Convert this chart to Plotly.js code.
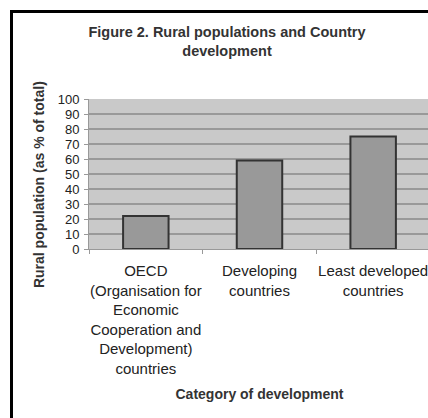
<!DOCTYPE html>
<html>
<head>
<meta charset="utf-8">
<script src="https://cdn.plot.ly/plotly-3.0.1.min.js"></script>
<style>
  html, body { margin: 0; padding: 0; background: #fff; overflow: hidden; width: 428px; height: 418px; }
  #frame { position: absolute; left: 10px; top: 10px; width: 500px; height: 450px; border: 3px solid #000; }
  #chart { width: 500px; height: 450px; }
</style>
</head>
<body>
<div id="frame"><div id="chart"></div></div>
<script>
// Rural population share by development category
const categories = ["OECD", "Developing", "Least developed"];
const tickLabels = [
  "OECD<br>(Organisation for<br>Economic<br>Cooperation and<br>Development)<br>countries",
  "Developing<br>countries",
  "Least developed<br>countries"
];
const ruralShare = [22, 59, 75];
const yTicks = [0, 10, 20, 30, 40, 50, 60, 70, 80, 90, 100];

const font = "Liberation Sans, Arial, sans-serif";
const ink = "#222";

const trace = {
  type: "bar",
  x: categories,
  y: ruralShare,
  marker: { color: "#999999", line: { color: "#333333", width: 2 } },
  hoverinfo: "skip"
};

const layout = {
  width: 500,
  height: 450,
  margin: { l: 76, r: 83, t: 86, b: 214 },
  paper_bgcolor: "#ffffff",
  plot_bgcolor: "#c9c9c9",
  bargap: 0.6,
  showlegend: false,
  font: { family: font, color: ink },
  title: {
    text: "<b>Figure 2. Rural populations and Country<br>development</b>",
    font: { family: font, size: 14.5, color: "#333" },
    xref: "container", x: 0.428, xanchor: "center",
    yref: "container", y: 0.946, yanchor: "top"
  },
  xaxis: {
    type: "category",
    tickvals: categories,
    ticktext: tickLabels,
    tickangle: 0,
    tickson: "boundaries",
    ticks: "outside",
    ticklen: 4,
    tickcolor: "#999",
    showline: true,
    linecolor: "#999",
    linewidth: 1,
    showgrid: false,
    tickfont: { family: font, size: 15, color: ink },
    ticklabelstandoff: 8,
    title: {
      text: "<b>Category of development</b>",
      font: { family: font, size: 14, color: "#333" },
      standoff: 13
    },
    fixedrange: true
  },
  yaxis: {
    range: [0, 100],
    tickvals: yTicks,
    ticks: "outside",
    ticklen: 4,
    tickcolor: "#999",
    showline: true,
    linecolor: "#999",
    linewidth: 1,
    showgrid: true,
    gridcolor: "#999",
    gridwidth: 1.3,
    zeroline: false,
    tickfont: { family: font, size: 13, color: ink },
    ticklabelstandoff: 2,
    fixedrange: true
  },
  annotations: [{
    text: "<b>Rural population (as % of total)</b>",
    textangle: -90,
    font: { family: font, size: 14, color: "#333" },
    xref: "paper", yref: "paper",
    x: -0.147, y: 0.432,
    xanchor: "center", yanchor: "middle",
    showarrow: false
  }]
};

Plotly.newPlot("chart", [trace], layout, { displayModeBar: false, staticPlot: true });
</script>
</body>
</html>
